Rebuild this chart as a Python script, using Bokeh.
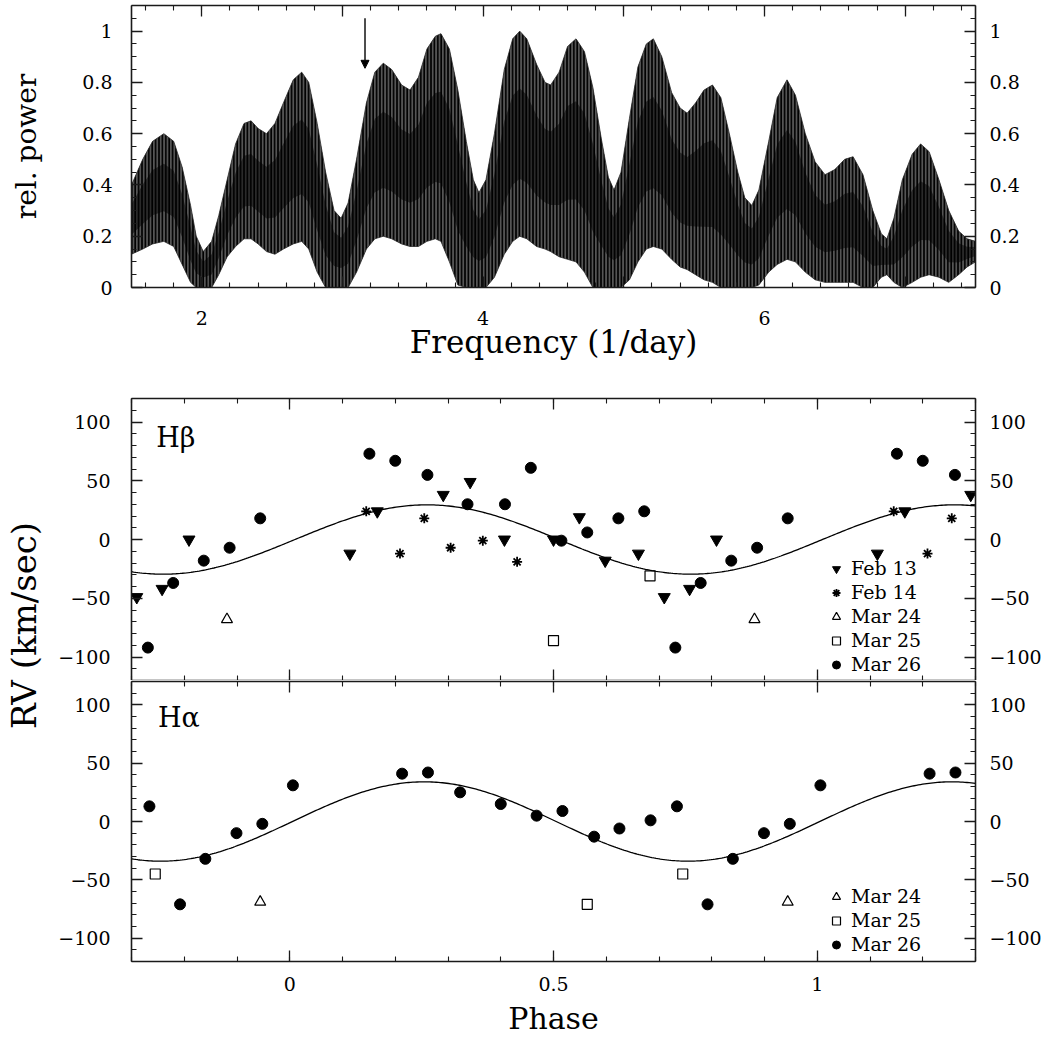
import numpy as np
from bokeh.plotting import figure
from bokeh.models import (Range1d, LinearAxis, FixedTicker, Arrow, NormalHead,
                          Label, Legend, LegendItem, CustomLabelingPolicy)
from bokeh.layouts import column, row
from bokeh.embed import file_html
from bokeh.resources import INLINE

FONT = "DejaVu Serif"

# ---------------- periodogram (envelopes of the densely aliased power) -------------
freq = [1.50, 1.58, 1.65, 1.73, 1.80, 1.86, 1.92, 1.96, 2.01, 2.07, 2.12, 2.18, 2.24,
        2.30, 2.35, 2.40, 2.46, 2.52, 2.58, 2.65, 2.71, 2.76, 2.82, 2.88, 2.94, 2.99,
        3.04, 3.10, 3.17, 3.23, 3.29, 3.35, 3.42, 3.48, 3.54, 3.60, 3.66, 3.70, 3.76,
        3.82, 3.88, 3.93, 3.97, 4.02, 4.08, 4.15, 4.21, 4.26, 4.31, 4.38, 4.44, 4.48,
        4.54, 4.60, 4.66, 4.72, 4.78, 4.84, 4.89, 4.93, 4.98, 5.04, 5.10, 5.16, 5.21,
        5.27, 5.34, 5.40, 5.45, 5.51, 5.57, 5.63, 5.69, 5.75, 5.81, 5.86, 5.91, 5.96,
        6.03, 6.09, 6.16, 6.22, 6.29, 6.36, 6.43, 6.50, 6.57, 6.63, 6.70, 6.77, 6.83,
        6.87, 6.92, 6.98, 7.05, 7.11, 7.17, 7.24, 7.31, 7.38, 7.44, 7.50]
power_upper = [0.40, 0.50, 0.57, 0.60, 0.57, 0.47, 0.32, 0.20, 0.14, 0.18, 0.28, 0.42, 0.56,
               0.64, 0.65, 0.62, 0.60, 0.64, 0.72, 0.81, 0.84, 0.80, 0.64, 0.45, 0.30, 0.27,
               0.33, 0.50, 0.72, 0.84, 0.875, 0.85, 0.79, 0.77, 0.82, 0.93, 0.98, 0.99, 0.93,
               0.77, 0.57, 0.42, 0.37, 0.42, 0.60, 0.85, 0.97, 1.00, 0.97, 0.87, 0.80, 0.79,
               0.84, 0.94, 0.97, 0.92, 0.78, 0.58, 0.43, 0.38, 0.45, 0.66, 0.86, 0.95, 0.97,
               0.90, 0.76, 0.70, 0.68, 0.72, 0.77, 0.79, 0.74, 0.60, 0.45, 0.35, 0.32, 0.38,
               0.57, 0.74, 0.81, 0.75, 0.60, 0.49, 0.44, 0.46, 0.50, 0.51, 0.44, 0.30, 0.21,
               0.19, 0.27, 0.42, 0.52, 0.56, 0.53, 0.42, 0.30, 0.22, 0.19, 0.18]
power_lower = [0.13, 0.15, 0.17, 0.18, 0.16, 0.09, 0.02, 0.00, 0.00, 0.00, 0.05, 0.12, 0.16,
               0.19, 0.19, 0.17, 0.14, 0.13, 0.15, 0.17, 0.18, 0.15, 0.06, 0.00, 0.00, 0.00,
               0.00, 0.06, 0.15, 0.19, 0.20, 0.19, 0.17, 0.16, 0.16, 0.18, 0.19, 0.18, 0.10,
               0.01, 0.00, 0.00, 0.00, 0.00, 0.04, 0.13, 0.18, 0.20, 0.19, 0.16, 0.15, 0.14,
               0.12, 0.11, 0.10, 0.06, 0.00, 0.00, 0.00, 0.00, 0.00, 0.03, 0.10, 0.15, 0.16,
               0.15, 0.11, 0.08, 0.07, 0.05, 0.03, 0.02, 0.00, 0.00, 0.00, 0.00, 0.00, 0.01,
               0.06, 0.09, 0.11, 0.10, 0.06, 0.03, 0.02, 0.02, 0.02, 0.02, 0.00, 0.00, 0.04,
               0.05, 0.02, 0.00, 0.02, 0.04, 0.05, 0.04, 0.02, 0.05, 0.08, 0.10]
arrow_freq = 3.16
freq_ticks = [2, 3, 4, 5, 6, 7]
power_ticks = [0, 0.2, 0.4, 0.6, 0.8, 1]
power_tick_labels = {0: "0", 0.2: "0.2", 0.4: "0.4", 0.6: "0.6", 0.8: "0.8", 1: "1"}

# ---------------- radial velocities, H-beta ----------------
hb_feb13_phase = [0.114, 0.166, 0.291, 0.342, 0.407, 0.500, 0.549, 0.598, 0.661, 0.710, 0.758, 0.809]
hb_feb13_rv = [-12, 24, 38, 49, 0, 0, 19, -18, -12, -49, -42, 0]
hb_feb14_phase = [0.145, 0.209, 0.255, 0.305, 0.366, 0.431]
hb_feb14_rv = [24, -12, 18, -7, -1, -19]
hb_mar24_phase = [0.881]
hb_mar24_rv = [-68]
hb_mar25_phase = [0.500, 0.683]
hb_mar25_rv = [-86, -31]
hb_mar26_phase = [0.151, 0.200, 0.261, 0.337, 0.408, 0.457, 0.515, 0.564, 0.623, 0.672,
                  0.731, 0.779, 0.837, 0.886, 0.944]
hb_mar26_rv = [73, 67, 55, 30, 30, 61, -1, 6, 18, 24, -92, -37, -18, -7, 18]
hb_fit_K, hb_fit_phi0 = 29.5, 0.010

# ---------------- radial velocities, H-alpha ----------------
ha_mar24_phase = [0.944]
ha_mar24_rv = [-69]
ha_mar25_phase = [0.564, 0.745]
ha_mar25_rv = [-71, -45]
ha_mar26_phase = [0.006, 0.213, 0.262, 0.323, 0.400, 0.468, 0.517, 0.577, 0.625, 0.684,
                  0.734, 0.792, 0.840, 0.899, 0.948]
ha_mar26_rv = [31, 41, 42, 25, 15, 5, 9, -13, -6, 1, 13, -71, -32, -10, -2]
ha_fit_K, ha_fit_phi0 = 34.0, 0.005

phase_ticks = [0, 0.5, 1]
phase_tick_labels = {0: "0", 0.5: "0.5", 1: "1"}
rv_ticks = [-100, -50, 0, 50, 100]
rv_tick_labels = {-100: "\u2212100", -50: "\u221250", 0: "0", 50: "50", 100: "100"}

PH_LO, PH_HI = -0.3, 1.3

HIDE_ALL = CustomLabelingPolicy(code="""
const n = indices.size
for (let i = 0; i < n; i++) { indices.unset(i) }
return indices
""")
EVERY_OTHER = CustomLabelingPolicy(code="""
const n = indices.size
for (let i = 1; i < n; i += 2) { indices.unset(i) }
return indices
""")


def wrap(ph, rv):
    xs, ys = [], []
    for shift in (-1, 0, 1):
        for a, b in zip(ph, rv):
            if PH_LO <= a + shift <= PH_HI:
                xs.append(a + shift)
                ys.append(b)
    return xs, ys


def style_axis(ax, show_labels, standoff=16):
    ax.axis_line_width = 1.6
    ax.axis_line_color = "#1a1a1a"
    ax.major_tick_in = 11
    ax.major_tick_out = 0
    ax.minor_tick_in = 5
    ax.minor_tick_out = 0
    ax.major_tick_line_width = 1.3
    ax.minor_tick_line_width = 1.1
    ax.major_tick_line_color = "#1a1a1a"
    ax.minor_tick_line_color = "#1a1a1a"
    ax.major_label_text_font = FONT
    ax.major_label_text_color = "black"
    if show_labels:
        ax.major_label_text_font_size = "19px"
        ax.major_label_standoff = standoff
    else:
        ax.major_label_text_font_size = "0px"
        ax.major_label_standoff = 0
        ax.major_label_policy = HIDE_ALL
    ax.axis_label_text_font = FONT
    ax.axis_label_text_font_style = "normal"
    ax.axis_label_text_color = "black"


def make_fig(xr, yr, fh, mbt, mbb, mbl):
    p = figure(frame_width=844, frame_height=fh, x_range=xr, y_range=yr,
               x_axis_type=None, y_axis_type=None, toolbar_location=None,
               output_backend="svg", min_border_top=mbt, min_border_bottom=mbb,
               min_border_left=mbl, min_border_right=72)
    p.outline_line_color = None
    p.background_fill_color = "white"
    return p


# ================= top: periodogram =================
p1 = make_fig(Range1d(1.5, 7.5), Range1d(0, 1.1), 282, 5, 110, 131)

freq_minor = [round(1.6 + 0.2 * i, 2) for i in range(30)]
pw_minor = [round(0.05 * i, 2) for i in range(23)]
for loc, lab in (("below", True), ("above", False)):
    ax = LinearAxis(ticker=FixedTicker(ticks=freq_ticks, minor_ticks=freq_minor))
    style_axis(ax, lab, 23)
    if lab:
        ax.major_label_policy = EVERY_OTHER
        ax.axis_label = "Frequency (1/day)"
        ax.axis_label_text_font_size = "31px"
        ax.axis_label_standoff = -4
    p1.add_layout(ax, loc)
for loc in ("left", "right"):
    ax = LinearAxis(ticker=FixedTicker(ticks=power_ticks, minor_ticks=pw_minor))
    style_axis(ax, True, 19 if loc == "left" else 14)
    ax.major_label_overrides = power_tick_labels
    if loc == "left":
        ax.axis_label = "rel. power"
        ax.axis_label_text_font_size = "28px"
        ax.axis_label_standoff = 36
    p1.add_layout(ax, loc)

poly_x = list(freq) + list(freq[::-1])
poly_y = list(power_upper) + list(power_lower[::-1])
p1.patch(poly_x, poly_y, fill_color="#555555", hatch_pattern="vertical_line",
         hatch_color="#000000", hatch_scale=3.4, hatch_weight=1.8,
         line_color="#2a2a2a", line_width=0.8)
up = np.array(power_upper)
lo = np.array(power_lower)
mid = (up + lo) / 2
half = 0.22 * (up - lo)
p1.varea(x=freq, y1=mid - half, y2=mid + half, fill_color="#000000", fill_alpha=0.5)

p1.add_layout(Arrow(end=NormalHead(size=8, fill_color="black", line_color="black"),
                    x_start=arrow_freq, y_start=1.05, x_end=arrow_freq, y_end=0.855,
                    line_width=1.4, line_color="black"))


# ================= RV panels =================
def rv_panel(fh, mbt, mbb, bottom_labels):
    p = make_fig(Range1d(PH_LO, PH_HI), Range1d(-120, 120), fh, mbt, mbb, 78)
    ph_minor = [round(-0.3 + 0.1 * i, 2) for i in range(17)]
    rv_minor = list(range(-120, 121, 10))
    for loc, lab in (("below", bottom_labels), ("above", False)):
        ax = LinearAxis(ticker=FixedTicker(ticks=phase_ticks, minor_ticks=ph_minor))
        style_axis(ax, lab, 15)
        ax.major_label_overrides = phase_tick_labels
        if lab:
            ax.axis_label = "Phase"
            ax.axis_label_text_font_size = "30px"
            ax.axis_label_standoff = 7
        p.add_layout(ax, loc)
    for loc in ("left", "right"):
        ax = LinearAxis(ticker=FixedTicker(ticks=rv_ticks, minor_ticks=rv_minor))
        style_axis(ax, True, 21 if loc == "left" else 14)
        ax.major_label_overrides = rv_tick_labels
        p.add_layout(ax, loc)
    return p


def fit_curve(p, K, phi0):
    ph = np.linspace(PH_LO, PH_HI, 400)
    p.line(ph, K * np.sin(2 * np.pi * (ph - phi0)), line_color="black", line_width=1.3)


def add_legend(p, items, vy):
    leg = Legend(items=[LegendItem(label=t, renderers=[r]) for t, r in items],
                 location=(695, vy), orientation="vertical", padding=0, margin=0,
                 spacing=2, glyph_width=20, glyph_height=21, label_height=21,
                 label_standoff=5, label_text_font=FONT, label_text_font_size="19px",
                 label_text_color="black", background_fill_alpha=0, border_line_alpha=0)
    p.add_layout(leg)


# H-beta
p2 = rv_panel(282, 1, 0, False)
fit_curve(p2, hb_fit_K, hb_fit_phi0)
x, y = wrap(hb_feb13_phase, hb_feb13_rv)
r_feb13 = p2.scatter(x, y, marker="inverted_triangle", size=12, fill_color="black", line_color="black")
x, y = wrap(hb_feb14_phase, hb_feb14_rv)
r_feb14 = p2.scatter(x, y, marker="asterisk", size=10, line_color="black", line_width=1.8)
x, y = wrap(hb_mar24_phase, hb_mar24_rv)
r_m24 = p2.scatter(x, y, marker="triangle", size=11, fill_color=None, line_color="black", line_width=1.2)
x, y = wrap(hb_mar25_phase, hb_mar25_rv)
r_m25 = p2.scatter(x, y, marker="square", size=10, fill_color=None, line_color="black", line_width=1.2)
x, y = wrap(hb_mar26_phase, hb_mar26_rv)
r_m26 = p2.scatter(x, y, marker="circle", size=11, fill_color="black", line_color="black")
p2.add_layout(Label(x=-0.253, y=87, text="H\u03b2", text_font=FONT, text_font_size="27px",
                    text_baseline="middle", text_color="black"))
add_legend(p2, [("Feb 13", r_feb13), ("Feb 14", r_feb14), ("Mar 24", r_m24),
                ("Mar 25", r_m25), ("Mar 26", r_m26)], 5)

# H-alpha
p3 = rv_panel(280, 1, 72, True)
fit_curve(p3, ha_fit_K, ha_fit_phi0)
x, y = wrap(ha_mar24_phase, ha_mar24_rv)
s_m24 = p3.scatter(x, y, marker="triangle", size=11, fill_color=None, line_color="black", line_width=1.2)
x, y = wrap(ha_mar25_phase, ha_mar25_rv)
s_m25 = p3.scatter(x, y, marker="square", size=10, fill_color=None, line_color="black", line_width=1.2)
x, y = wrap(ha_mar26_phase, ha_mar26_rv)
s_m26 = p3.scatter(x, y, marker="circle", size=11, fill_color="black", line_color="black")
p3.add_layout(Label(x=-0.250, y=89, text="H\u03b1", text_font=FONT, text_font_size="27px",
                    text_baseline="middle", text_color="black"))
add_legend(p3, [("Mar 24", s_m24), ("Mar 25", s_m25), ("Mar 26", s_m26)], 6)

# shared y-axis title
pl = figure(width=53, height=636, x_range=Range1d(0, 53), y_range=Range1d(0, 636),
            x_axis_type=None, y_axis_type=None, toolbar_location=None,
            output_backend="svg", min_border=0)
pl.outline_line_color = None
pl.add_layout(Label(x=23, y=408, text="RV (km/sec)", angle=np.pi / 2, text_align="center",
                    text_baseline="middle", text_font=FONT, text_font_size="34px",
                    text_color="black"))

layout = column(p1, row(pl, column(p2, p3)))
open("out.html", "w").write(file_html(layout, INLINE))
